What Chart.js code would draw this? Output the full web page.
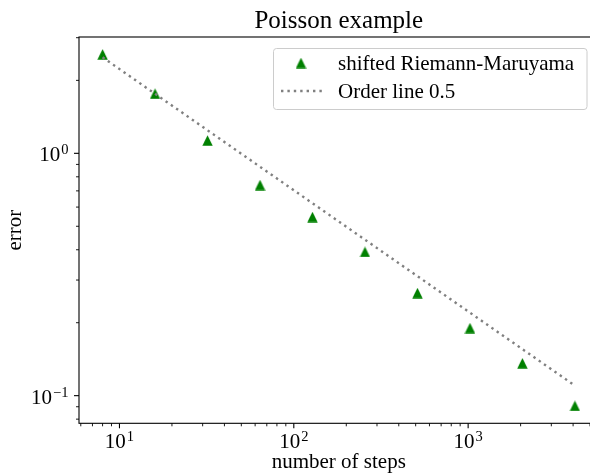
<!DOCTYPE html>
<html>
<head>
<meta charset="utf-8">
<script src="https://cdn.jsdelivr.net/npm/chart.js@4/dist/chart.umd.min.js"></script>
<style>
  html, body { margin: 0; padding: 0; background: #fff; overflow: hidden; }
  #wrap { width: 590px; height: 475px; overflow: hidden; }
</style>
</head>
<body>
<div id="wrap"><canvas id="chart" width="605" height="475"></canvas></div>
<script>
// values
var steps = [8, 16, 32, 64, 128, 256, 512, 1024, 2048, 4096];
var errors = [2.561, 1.762, 1.129, 0.740, 0.546, 0.392, 0.265, 0.190, 0.136, 0.0908];
var orderSteps = [8, 4096];
var orderErrors = [2.49, 0.110];

var xTickValues = [10, 100, 1000];
var xTickLabels = [["10", "1"], ["10", "2"], ["10", "3"]];
var yTickValues = [0.1, 1];
var yTickLabels = [["10", "\u22121"], ["10", "0"]];

var serif = "'Liberation Serif', 'Times New Roman', serif";
Chart.defaults.font.family = serif;
Chart.defaults.color = "#000";

function triangleMarker(size, color) {
    var c = document.createElement("canvas");
    c.width = size;
    c.height = size;
    var g = c.getContext("2d");
    g.fillStyle = color;
    g.beginPath();
    g.moveTo(size / 2, 0.3);
    g.lineTo(size - 0.3, size - 0.3);
    g.lineTo(0.3, size - 0.3);
    g.closePath();
    g.fill();
    return c;
}
var tri = triangleMarker(11, "#008000");

function minorValues(scale) {
    var out = [];
    for (var e = -3; e <= 5; e++) {
        for (var m = 1; m <= 9; m++) {
            var v = m * Math.pow(10, e);
            if (v >= scale.min && v <= scale.max) out.push({ v: v, major: m === 1 });
        }
    }
    return out;
}

function drawPowerLabel(ctx, base, exp, x, y, align) {
    ctx.font = "21px " + serif;
    var w1 = ctx.measureText(base).width;
    ctx.font = "14.5px " + serif;
    var w2 = ctx.measureText(exp).width;
    var total = w1 + w2 + 1;
    var start = align === "center" ? x - total / 2 : x - total;
    ctx.textAlign = "left";
    ctx.textBaseline = "alphabetic";
    ctx.font = "21px " + serif;
    ctx.fillText(base, start, y);
    ctx.font = "14.5px " + serif;
    ctx.fillText(exp, start + w1 + 1, y - 7);
}

var axesPlugin = {
    id: "axesDecor",
    afterDraw: function (chart) {
        var ctx = chart.ctx;
        var a = chart.chartArea;
        var xs = chart.scales.x, ys = chart.scales.y;
        ctx.save();
        ctx.strokeStyle = "#000";
        ctx.lineWidth = 1.1;
        ctx.strokeRect(a.left, a.top, a.right - a.left, a.bottom - a.top);

        // tick marks, outward
        minorValues(xs).forEach(function (t) {
            var px = xs.getPixelForValue(t.v);
            ctx.lineWidth = t.major ? 1.1 : 0.9;
            ctx.beginPath();
            ctx.moveTo(px, a.bottom);
            ctx.lineTo(px, a.bottom + (t.major ? 5 : 3));
            ctx.stroke();
        });
        minorValues(ys).forEach(function (t) {
            var py = ys.getPixelForValue(t.v);
            ctx.lineWidth = t.major ? 1.1 : 0.9;
            ctx.beginPath();
            ctx.moveTo(a.left, py);
            ctx.lineTo(a.left - (t.major ? 5 : 3), py);
            ctx.stroke();
        });

        ctx.fillStyle = "#000";
        xTickValues.forEach(function (v, i) {
            drawPowerLabel(ctx, xTickLabels[i][0], xTickLabels[i][1], xs.getPixelForValue(v), a.bottom + 25, "center");
        });
        yTickValues.forEach(function (v, i) {
            drawPowerLabel(ctx, yTickLabels[i][0], yTickLabels[i][1], a.left - 10.5, ys.getPixelForValue(v) + 8, "right");
        });

        // legend box, upper right
        var bx = 273, by = a.top + 11, bw = 313.5, bh = 61;
        ctx.fillStyle = "rgba(255,255,255,0.8)";
        ctx.strokeStyle = "#cccccc";
        ctx.lineWidth = 1;
        ctx.beginPath();
        ctx.roundRect(bx + 0.5, by + 0.5, bw, bh, 3);
        ctx.fill();
        ctx.stroke();

        var ds = chart.data.datasets;
        ctx.font = "21px " + serif;
        ctx.textAlign = "left";
        ctx.textBaseline = "alphabetic";
        ds.forEach(function (d, i) {
            var cy = by + 15 + i * 28;
            if (d.showLine) {
                ctx.strokeStyle = d.borderColor;
                ctx.lineWidth = d.borderWidth;
                ctx.setLineDash(d.borderDash);
                ctx.beginPath();
                ctx.moveTo(bx + 8, cy);
                ctx.lineTo(bx + 49, cy);
                ctx.stroke();
                ctx.setLineDash([]);
            } else {
                ctx.drawImage(d.pointStyle, bx + 28 - 5.5, cy - 5.5);
            }
            ctx.fillStyle = "#000";
            ctx.fillText(d.label, bx + 65, cy + 7);
        });
        ctx.restore();
    }
};

var chart = new Chart(document.getElementById("chart"), {
    type: "scatter",
    data: {
        datasets: [
            {
                label: "shifted Riemann-Maruyama",
                data: steps.map(function (s, i) { return { x: s, y: errors[i] }; }),
                pointStyle: tri,
                pointRadius: 5.5,
                backgroundColor: "#008000",
                borderColor: "#008000",
                showLine: false,
                order: 1
            },
            {
                label: "Order line 0.5",
                data: orderSteps.map(function (s, i) { return { x: s, y: orderErrors[i] }; }),
                showLine: true,
                pointRadius: 0,
                borderColor: "#808080",
                borderWidth: 2.4,
                borderDash: [2.4, 4],
                fill: false,
                order: 0
            }
        ]
    },
    options: {
        responsive: false,
        animation: false,
        layout: { padding: { left: 0, right: 1, top: 0, bottom: 0 } },
        plugins: {
            legend: { display: false },
            tooltip: { enabled: false },
            title: {
                display: true,
                fullSize: false,
                text: "Poisson example",
                color: "#000",
                font: { size: 25, weight: "normal" },
                padding: { top: 6, bottom: 1 }
            }
        },
        scales: {
            x: {
                type: "logarithmic",
                min: 5.86,
                max: 5594,
                grid: { display: false, drawTicks: false },
                border: { display: false },
                ticks: { display: false },
                title: {
                    display: true,
                    text: "number of steps",
                    color: "#000",
                    font: { size: 21 },
                    padding: { top: 26.5, bottom: 0 }
                }
            },
            y: {
                type: "logarithmic",
                min: 0.0769,
                max: 3.02,
                grid: { display: false, drawTicks: false },
                border: { display: false },
                ticks: { display: false },
                title: {
                    display: true,
                    text: "error",
                    color: "#000",
                    font: { size: 21 },
                    padding: { top: 2.8, bottom: 51 }
                }
            }
        }
    },
    plugins: [axesPlugin]
});
</script>
</body>
</html>
